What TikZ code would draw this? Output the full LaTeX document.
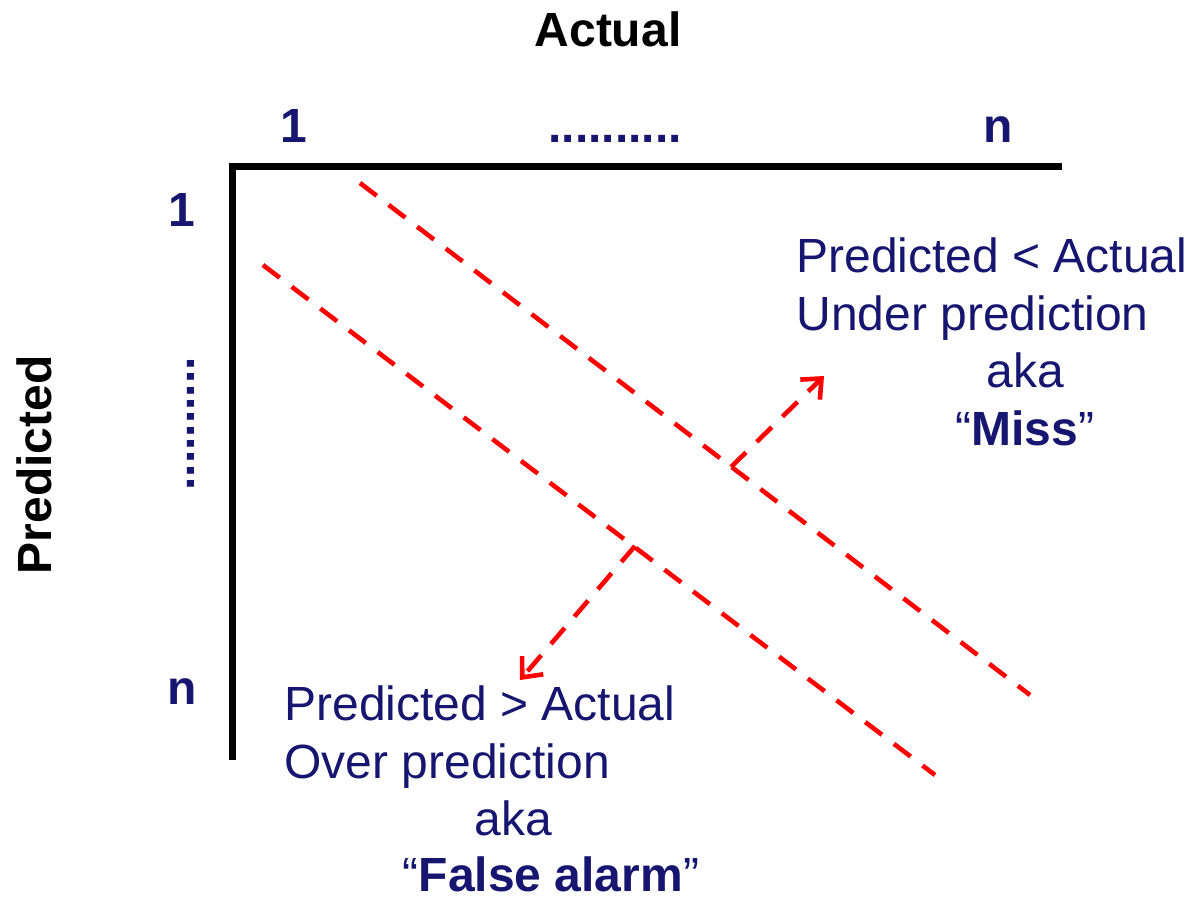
\documentclass[tikz,border=0pt]{standalone}
\usepackage{fontspec}
\setmainfont{Liberation Sans}
\usetikzlibrary{arrows.meta}
\definecolor{navy}{RGB}{22,22,112}
\definecolor{rline}{RGB}{255,0,0}
\tikzset{
  lbl/.style={inner sep=0pt, text=navy, font=\fontsize{24}{28}\selectfont},
  blbl/.style={lbl, font=\fontsize{24}{28}\selectfont\bfseries},
  axis/.style={line width=3.5pt, black},
  sep/.style={line width=2.3pt, rline, dash pattern=on 10.5pt off 7.5pt},
  dirarrow/.style={line width=2.3pt, rline, dash pattern=on 10.5pt off 7.5pt, -{Straight Barb[length=8pt,width=14pt,line width=2.3pt]}}
}
\begin{document}
\begin{tikzpicture}[x=0.5pt,y=-0.5pt]
\useasboundingbox (0,0) rectangle (1192,897);
% axes
\coordinate (corner) at (232,167);
\coordinate (xend) at (1062,167);
\coordinate (yend) at (232,760);
\draw[axis] (xend) -- (corner) -- (yend);
% titles
\node[blbl, text=black, anchor=base] (actual) at (608,47) {Actual};
\node[blbl, text=black, anchor=base, rotate=90] (pred) at (51,465) {Predicted};
% column labels
\node[blbl, anchor=base] (c1) at (294,143) {1};
\node[blbl, anchor=base] (cdots) at (615,143) {..........};
\node[blbl, anchor=base] (cn) at (998,143) {n};
% row labels
\node[blbl, anchor=base] (r1) at (182,227) {1};
\node[blbl, anchor=base, rotate=90] (rdots) at (194,424) {..........};
\node[blbl, anchor=base] (rn) at (182,704) {n};
% dashed separators
\coordinate (a1) at (360,183);
\coordinate (a2) at (1030,695);
\coordinate (b1) at (263,265);
\coordinate (b2) at (935,775);
\draw[sep] (a1) -- (a2);
\draw[sep] (b1) -- (b2);
% arrows
\coordinate (m1) at (731,467);
\coordinate (m2) at (824,376);
\coordinate (f1) at (635,546);
\coordinate (f2) at (520,680);
\draw[dirarrow] (m1) -- (m2);
\draw[dirarrow] (f1) -- (f2);
% upper text
\node[lbl, anchor=base west] (u1) at (796,273) {Predicted < Actual};
\node[lbl, anchor=base west] (u2) at (796,331) {Under prediction};
\node[lbl, anchor=base] (u3) at (1025,388) {aka};
\node[lbl, anchor=base] (u4) at (1025,445) {“\textbf{Miss}”};
% lower text
\node[lbl, anchor=base west] (l1) at (284,720) {Predicted > Actual};
\node[lbl, anchor=base west] (l2) at (284,778) {Over prediction};
\node[lbl, anchor=base] (l3) at (513,835) {aka};
\node[lbl, anchor=base] (l4) at (551,891) {“\textbf{False alarm}”};
\end{tikzpicture}
\end{document}
